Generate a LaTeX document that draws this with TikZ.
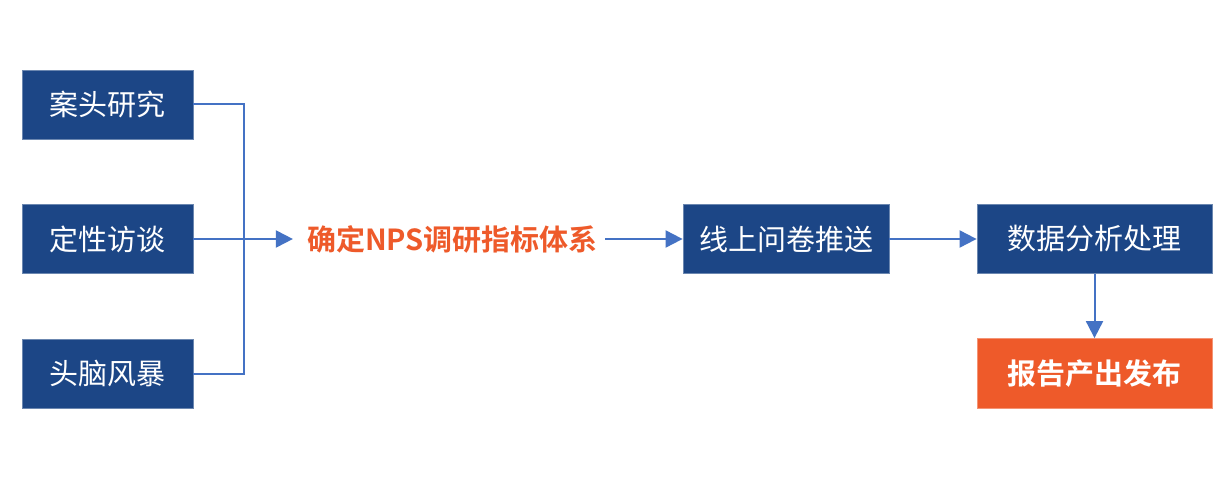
\documentclass[tikz,border=0pt]{standalone}
\usepackage{fontspec}
\setmainfont{Noto Sans CJK SC}[BoldFont={Noto Sans CJK SC Bold}]
\usetikzlibrary{arrows.meta}
\definecolor{boxblue}{HTML}{1C4686}
\definecolor{lineblue}{HTML}{4472C4}
\definecolor{orng}{HTML}{EE5A2A}
\begin{document}
\begin{tikzpicture}[x=1pt,y=-1pt,
  box/.style={fill=boxblue, draw=boxblue!65!white, line width=0.8pt, text=white,
    font=\fontsize{29}{31}\selectfont, inner sep=0pt, minimum height=69pt},
  hotbox/.style={box, fill=orng, draw=orng!65!white, font=\fontsize{29}{31}\selectfont\bfseries},
  goalstyle/.style={text=orng, font=\fontsize{29}{31}\selectfont\bfseries, inner sep=0pt},
  conn/.style={draw=lineblue, line width=2pt},
  arr/.style={conn, -{Triangle[length=17pt,width=17pt]}}]
\useasboundingbox (0,0) rectangle (1230,502);
\fill[white] (0,0) rectangle (1230,502);
\node[box, minimum width=171pt] (a) at (107.5,104.5) {案头研究};
\node[box, minimum width=171pt] (b) at (107.5,239) {定性访谈};
\node[box, minimum width=171pt] (c) at (107.5,374) {头脑风暴};
\node[goalstyle] (g) at (452.5,239) {确定NPS调研指标体系};
\node[box, minimum width=206pt] (d) at (786,239) {线上问卷推送};
\node[box, minimum width=235pt] (e) at (1094.5,239) {数据分析处理};
\node[hotbox, minimum width=235pt, minimum height=70pt] (f) at (1094.5,373.5) {报告产出发布};
\coordinate (j) at (244,239);
\draw[conn] (a.east) -| (j);
\draw[conn] (c.east) -| (j);
\draw[arr, shorten >=14pt] (b.east) -- (g.west);
\draw[arr, shorten <=7pt] (g.east) -- (d.west);
\draw[arr] (d.east) -- (e.west);
\draw[arr] (e.south) -- (f.north);
\end{tikzpicture}
\end{document}
